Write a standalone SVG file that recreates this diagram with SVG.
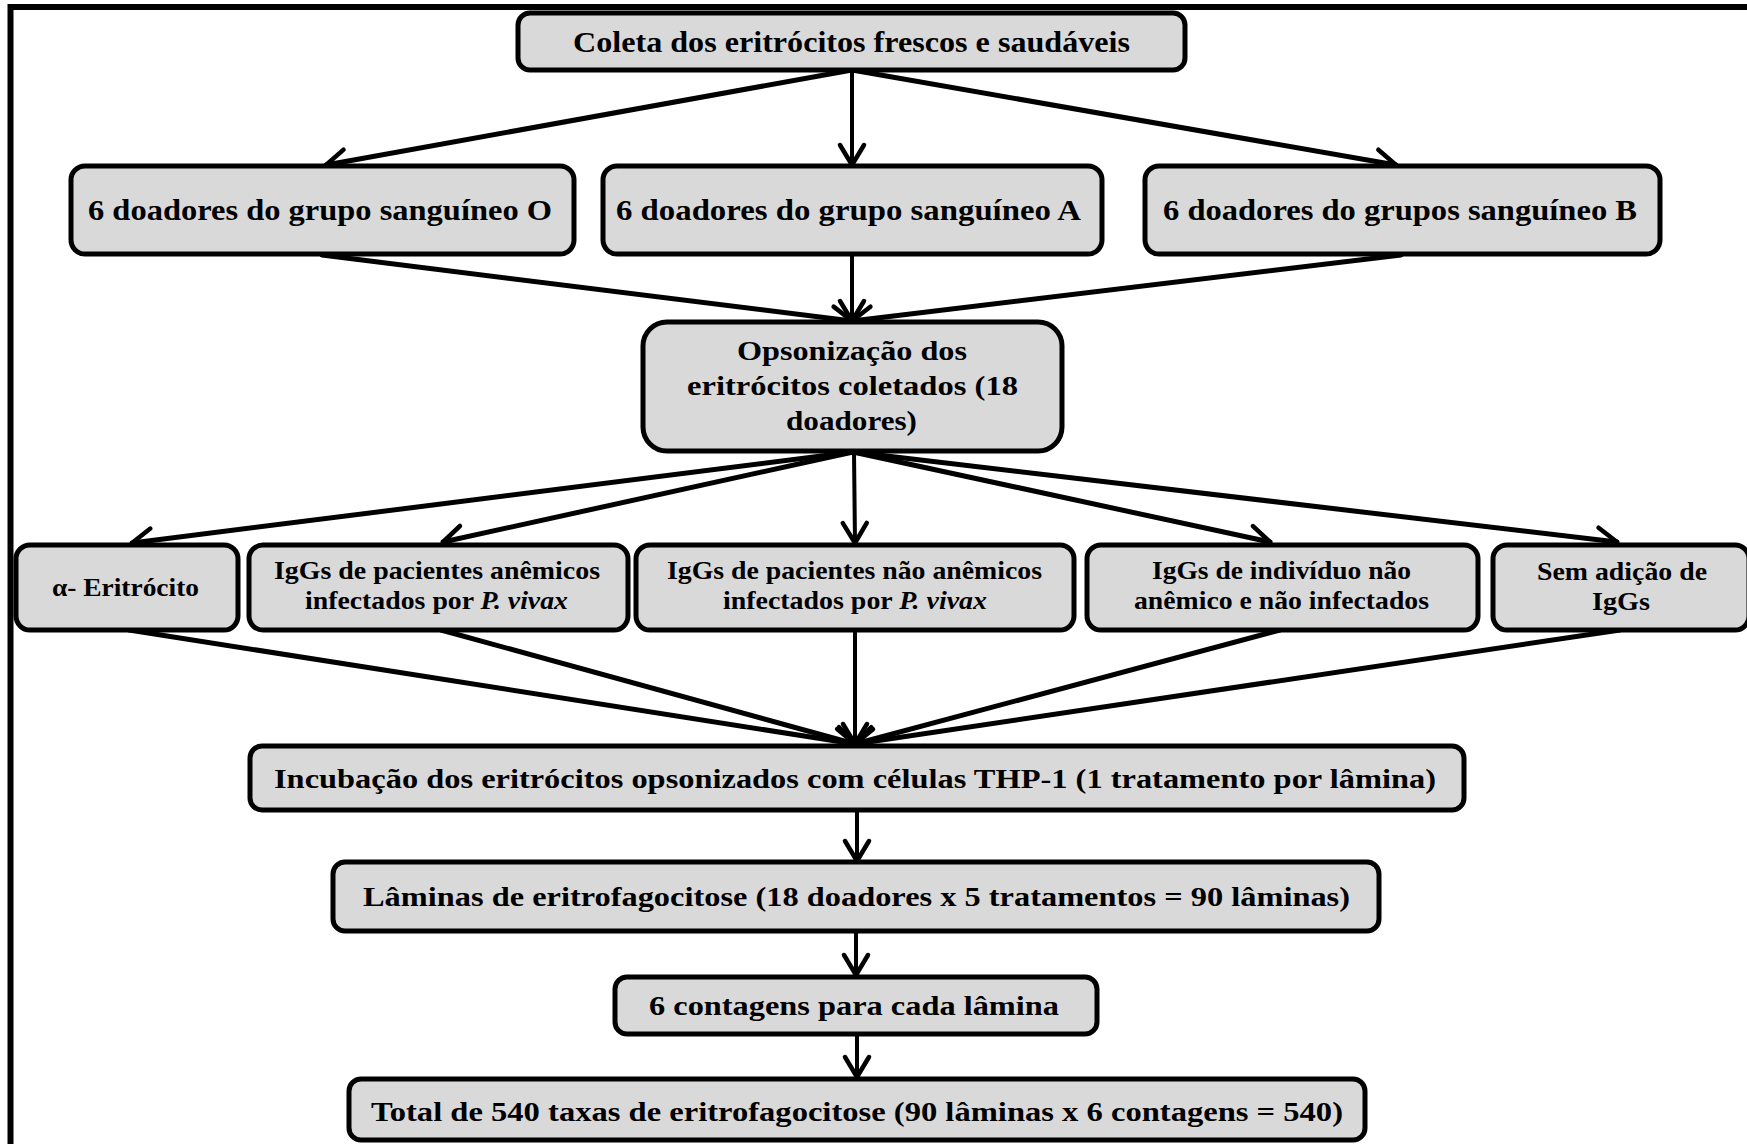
<svg xmlns="http://www.w3.org/2000/svg" width="1747" height="1144" viewBox="0 0 1747 1144">
<defs>
<style>
.box{fill:#d9d9d9;stroke:#000;stroke-width:5}
.t{font-family:"Liberation Serif","Times New Roman",serif;font-weight:bold;fill:#000}
.f29{font-size:29px}
.f28{font-size:28px}
.f27{font-size:27px}
.f25{font-size:25px}
.it{font-style:italic}
.c{fill:none;stroke:#000;stroke-linecap:round;marker-end:url(#ah)}
.d{stroke-width:5}
.v{stroke-width:4}
</style>
<marker id="ah" viewBox="-25 -16 30 32" refX="0" refY="0" markerWidth="30" markerHeight="32" markerUnits="userSpaceOnUse" orient="auto">
<path d="M-20,-12 L0,0 L-20,12" fill="none" stroke="#000" stroke-width="4.5" stroke-linecap="round" stroke-linejoin="round"/>
</marker>
</defs>
<rect x="0" y="0" width="1747" height="1144" fill="#fff"/>
<path d="M10.5,1144 V7 H1747" fill="none" stroke="#000" stroke-width="6"/>

<g id="connectors">
<line class="c d" x1="852" y1="70" x2="326" y2="165"/>
<line class="c v" x1="852" y1="70" x2="852" y2="165"/>
<line class="c d" x1="852" y1="70" x2="1396" y2="165"/>
<line class="c d" x1="322" y1="255" x2="852" y2="321"/>
<line class="c v" x1="852" y1="255" x2="852" y2="321"/>
<line class="c d" x1="1401" y1="255" x2="852" y2="321"/>
<line class="c d" x1="853" y1="452" x2="132" y2="543"/>
<line class="c d" x1="853" y1="452" x2="443" y2="542"/>
<line class="c v" x1="854" y1="452" x2="855" y2="543"/>
<line class="c d" x1="853" y1="452" x2="1270" y2="542"/>
<line class="c d" x1="853" y1="452" x2="1617" y2="542"/>
<line class="c d" x1="129" y1="630" x2="855" y2="744"/>
<line class="c d" x1="441" y1="630" x2="855" y2="744"/>
<line class="c v" x1="855" y1="630" x2="855" y2="744"/>
<line class="c d" x1="1280" y1="630" x2="855" y2="744"/>
<line class="c d" x1="1620" y1="630" x2="855" y2="744"/>
<line class="c v" x1="857" y1="810" x2="857" y2="861"/>
<line class="c v" x1="856" y1="932" x2="856" y2="975"/>
<line class="c v" x1="857" y1="1035" x2="857" y2="1077"/>
</g>

<g id="n-coleta">
<rect class="box" x="518" y="13" width="667" height="57" rx="12"/>
<text class="t f29" x="573" y="52" textLength="557" lengthAdjust="spacingAndGlyphs">Coleta dos eritrócitos frescos e saudáveis</text>
</g>
<g id="n-grupoO">
<rect class="box" x="71" y="166" width="503" height="88" rx="14"/>
<text class="t f29" x="88" y="220" textLength="464" lengthAdjust="spacingAndGlyphs">6 doadores do grupo sanguíneo O</text>
</g>
<g id="n-grupoA">
<rect class="box" x="603" y="166" width="499" height="88" rx="14"/>
<text class="t f29" x="616" y="220" textLength="465" lengthAdjust="spacingAndGlyphs">6 doadores do grupo sanguíneo A</text>
</g>
<g id="n-grupoB">
<rect class="box" x="1145" y="166" width="515" height="88" rx="14"/>
<text class="t f29" x="1163" y="220" textLength="474" lengthAdjust="spacingAndGlyphs">6 doadores do grupos sanguíneo B</text>
</g>
<g id="n-opsonizacao">
<rect class="box" x="643" y="322" width="419" height="129" rx="24"/>
<text class="t f27" x="737" y="360" textLength="230" lengthAdjust="spacingAndGlyphs">Opsonização dos</text>
<text class="t f27" x="687" y="395" textLength="331" lengthAdjust="spacingAndGlyphs">eritrócitos coletados (18</text>
<text class="t f27" x="786" y="430" textLength="131" lengthAdjust="spacingAndGlyphs">doadores)</text>
</g>
<g id="n-alfa">
<rect class="box" x="16" y="545" width="222" height="85" rx="14"/>
<text class="t f25" x="52" y="596" textLength="147" lengthAdjust="spacingAndGlyphs">α- Eritrócito</text>
</g>
<g id="n-anemicos">
<rect class="box" x="249" y="545" width="379" height="85" rx="14"/>
<text class="t f25" x="274" y="579" textLength="326" lengthAdjust="spacingAndGlyphs">IgGs de pacientes anêmicos</text>
<text class="t f25" x="305" y="609" textLength="263" lengthAdjust="spacingAndGlyphs">infectados por <tspan class="it">P. vivax</tspan></text>
</g>
<g id="n-nao-anemicos">
<rect class="box" x="636" y="545" width="438" height="85" rx="14"/>
<text class="t f25" x="667" y="579" textLength="375" lengthAdjust="spacingAndGlyphs">IgGs de pacientes não anêmicos</text>
<text class="t f25" x="723" y="609" textLength="264" lengthAdjust="spacingAndGlyphs">infectados por <tspan class="it">P. vivax</tspan></text>
</g>
<g id="n-individuo">
<rect class="box" x="1087" y="545" width="391" height="85" rx="14"/>
<text class="t f25" x="1152" y="579" textLength="259" lengthAdjust="spacingAndGlyphs">IgGs de indivíduo não</text>
<text class="t f25" x="1134" y="609" textLength="295" lengthAdjust="spacingAndGlyphs">anêmico e não infectados</text>
</g>
<g id="n-sem-igg">
<rect class="box" x="1493" y="545" width="256" height="85" rx="14"/>
<text class="t f25" x="1537" y="580" textLength="170" lengthAdjust="spacingAndGlyphs">Sem adição de</text>
<text class="t f25" x="1592" y="610" textLength="58" lengthAdjust="spacingAndGlyphs">IgGs</text>
</g>
<g id="n-incubacao">
<rect class="box" x="250" y="746" width="1214" height="64" rx="12"/>
<text class="t f28" x="274" y="788" textLength="1162" lengthAdjust="spacingAndGlyphs">Incubação dos eritrócitos opsonizados com células THP-1 (1 tratamento por lâmina)</text>
</g>
<g id="n-laminas">
<rect class="box" x="333" y="862" width="1046" height="69" rx="12"/>
<text class="t f28" x="363" y="906" textLength="987" lengthAdjust="spacingAndGlyphs">Lâminas de eritrofagocitose (18 doadores x 5 tratamentos = 90 lâminas)</text>
</g>
<g id="n-contagens">
<rect class="box" x="615" y="977" width="482" height="57" rx="12"/>
<text class="t f28" x="649" y="1015" textLength="410" lengthAdjust="spacingAndGlyphs">6 contagens para cada lâmina</text>
</g>
<g id="n-total">
<rect class="box" x="349" y="1079" width="1016" height="61" rx="12"/>
<text class="t f28" x="371" y="1121" textLength="972" lengthAdjust="spacingAndGlyphs">Total de 540 taxas de eritrofagocitose (90 lâminas x 6 contagens = 540)</text>
</g>
</svg>
